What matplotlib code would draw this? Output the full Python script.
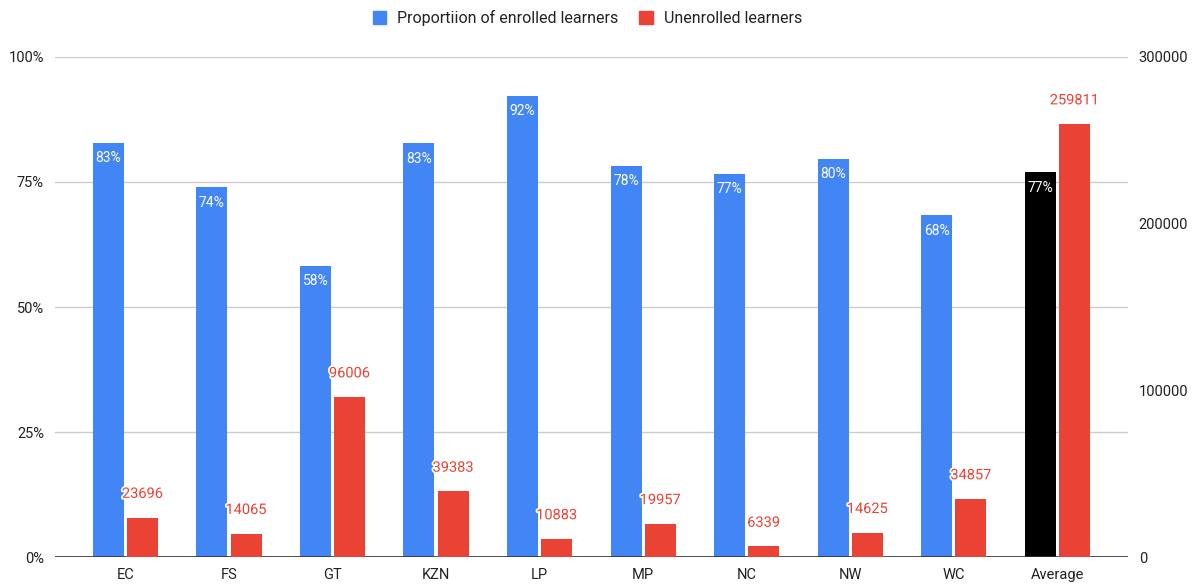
import matplotlib
matplotlib.use("Agg")
import matplotlib.pyplot as plt
import matplotlib.patheffects as pe
from matplotlib.patches import Patch
import numpy as np

categories = ["EC", "FS", "GT", "KZN", "LP", "MP", "NC", "NW", "WC", "Average"]
enrolled_pct = [82.8, 73.9, 58.2, 82.7, 92.2, 78.2, 76.6, 79.6, 68.3, 76.9]
enrolled_labels = ["83%", "74%", "58%", "83%", "92%", "78%", "77%", "80%", "68%", "77%"]
unenrolled = [23696, 14065, 96006, 39383, 10883, 19957, 6339, 14625, 34857, 259811]
left_ticks = [0, 25, 50, 75, 100]
left_ticklabels = ["0%", "25%", "50%", "75%", "100%"]
right_ticks = [0, 100000, 200000, 300000]

BLUE = "#4285F4"
RED = "#EA4335"
plt.rcParams["font.family"] = ["Roboto", "DejaVu Sans"]

fig = plt.figure(figsize=(11.99, 5.87), dpi=100)
ax = fig.add_axes([0.0459, 0.0511, 0.8946, 0.8518])
ax2 = ax.twinx()

x = np.arange(len(categories))
w = 0.30
off = 0.165
blue_colors = [BLUE] * (len(categories) - 1) + ["#000000"]
ax.bar(x - off, enrolled_pct, width=w, color=blue_colors, zorder=3)
ax2.bar(x + off, unenrolled, width=w, color=RED, zorder=3)

ax.set_ylim(0, 100)
ax2.set_ylim(0, 300000)
ax.set_xlim(-0.68, 9.68)

ax.set_yticks(left_ticks)
ax.set_yticklabels(left_ticklabels)
ax2.set_yticks(right_ticks)
ax2.set_yticklabels([str(t) for t in right_ticks])
ax.set_xticks(x)
ax.set_xticklabels(categories)

for a in (ax, ax2):
    for s in a.spines.values():
        s.set_visible(False)
    a.tick_params(length=0, labelsize=10.5, labelcolor="#222222")
ax.tick_params(axis="y", pad=8)
ax2.tick_params(axis="y", pad=8)
ax.tick_params(axis="x", pad=8)

ax.grid(axis="y", color="#cccccc", linewidth=1, zorder=0)
ax.axhline(0, color="#333333", linewidth=1.2, zorder=4)
ax.set_axisbelow(True)

halo = [pe.withStroke(linewidth=2.5, foreground="white")]
for xi, v, lab in zip(x, enrolled_pct, enrolled_labels):
    ax.annotate(lab, (xi - off, v), xytext=(0, -11), textcoords="offset points",
                ha="center", va="center", color="white", fontsize=10, zorder=5)
for xi, v in zip(x, unenrolled):
    ax2.annotate(str(v), (xi + off, v), xytext=(0, 17), textcoords="offset points",
                 ha="center", va="center", color=RED, fontsize=10.5, zorder=5,
                 path_effects=halo)

handles = [Patch(facecolor=BLUE, edgecolor=BLUE), Patch(facecolor=RED, edgecolor=RED)]
fig.legend(handles, ["Proportiion of enrolled learners", "Unenrolled learners"],
           loc="upper center", bbox_to_anchor=(0.49, 1.008), ncol=2, frameon=False,
           fontsize=11.5, handlelength=0.85, handleheight=0.85, columnspacing=1.3,
           handletextpad=0.7, labelcolor="#222222")

fig.savefig("out.png", dpi=100)
